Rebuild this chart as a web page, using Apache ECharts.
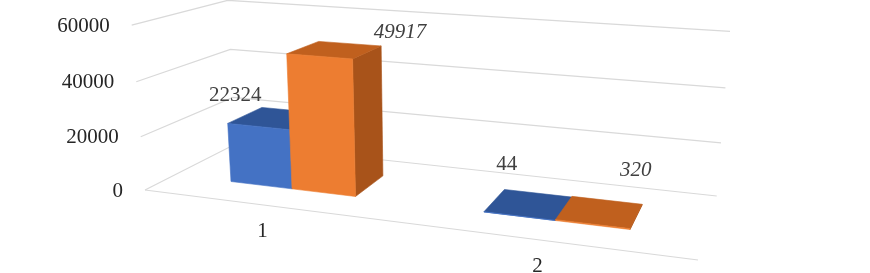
<!DOCTYPE html>
<html>
<head>
<meta charset="utf-8">
<script src="https://cdn.jsdelivr.net/npm/echarts@6/dist/echarts.min.js"></script>
<style>
  html, body { margin: 0; padding: 0; background: #ffffff; }
  #chart { width: 870px; height: 273px; }
</style>
</head>
<body>
<div id="chart"></div>
<script>
// ---------------- data ----------------
const categories = ['1', '2'];
const seriesA = [22324, 44];      // blue
const seriesB = [49917, 320];     // orange
const yTicks = [0, 20000, 40000, 60000];
const yTickLabels = ['0', '20000', '40000', '60000'];
const yMax = 60000;

// ---------------- layout / style ----------------
// perspective camera: maps unit box (X across, Y up, Z depth) to the screen
const cam = {
  ax: 444.73, az: 127.06, ay: -19.15, x0: 145,
  bx: 29.67, bz: -23.65, by: -166, y0: 190,
  gx: -0.15512, gz: 0.15524, gy: -0.04446
};
function proj(X, Y, Z) {
  const d = 1 + cam.gx * X + cam.gz * Z + cam.gy * Y;
  return [(cam.ax * X + cam.az * Z + cam.ay * Y + cam.x0) / d,
          (cam.bx * X + cam.bz * Z + cam.by * Y + cam.y0) / d];
}
const barWidthRatio = 0.256;   // each bar as fraction of category band
const depthFront = 0.3, depthBack = 0.7;
const gridColor = '#D9D9D9';
const fontFamily = "'Liberation Serif', 'Times New Roman', serif";
const fontSize = 21;
const seriesStyles = [
  { name: 'A', front: '#4472C4', top: '#2F5597', side: '#2B4C88', italic: false,
    labelOffsets: [[-40, -23], [-22, -40]] },
  { name: 'B', front: '#ED7D31', top: '#C0601E', side: '#A8531A', italic: true,
    labelOffsets: [[65, -17], [36, -41]] }
];
const allSeries = [seriesA, seriesB];

function norm(params, api, ci, v) {
  const cs = params.coordSys;
  const p = api.coord([ci, v]);
  return { X: (p[0] - cs.x) / cs.width, Y: (cs.y + cs.height - p[1]) / cs.height,
           band: api.size([1, 0])[0] / cs.width };
}

function poly(pts, color) {
  return { type: 'polygon', shape: { points: pts },
           style: { fill: color, stroke: color, lineWidth: 0.6 } };
}

function makeBarRender(sIdx) {
  const st = seriesStyles[sIdx];
  const nS = allSeries.length;
  return function (params, api) {
    const ci = api.value(0), v = api.value(1);
    const n = norm(params, api, ci, v);
    const w = n.band * barWidthRatio;
    const X0 = n.X + (sIdx - nS / 2) * w, X1 = X0 + w;
    const T = n.Y;
    const zf = depthFront, zb = depthBack;
    const side = poly([proj(X1, 0, zf), proj(X1, 0, zb), proj(X1, T, zb), proj(X1, T, zf)], st.side);
    const top = poly([proj(X0, T, zf), proj(X1, T, zf), proj(X1, T, zb), proj(X0, T, zb)], st.top);
    const front = poly([proj(X0, 0, zf), proj(X1, 0, zf), proj(X1, T, zf), proj(X0, T, zf)], st.front);
    const anchor = proj((X0 + X1) / 2, T, (zf + zb) / 2);
    const off = st.labelOffsets[params.dataIndex];
    const label = {
      type: 'text', z2: 10,
      style: {
        text: String(v), x: anchor[0] + off[0], y: anchor[1] + off[1],
        align: 'center', verticalAlign: 'middle',
        font: (st.italic ? 'italic ' : '') + fontSize + 'px ' + fontFamily,
        fill: '#404040'
      }
    };
    return { type: 'group', children: [side, top, front, label] };
  };
}

function gridRender(params, api) {
  const t = api.value(1);
  const n = norm(params, api, 0, t);
  const Y = n.Y;
  const children = [
    { type: 'polyline', shape: { points: [proj(0, Y, 0), proj(0, Y, 1), proj(1, Y, 1)] },
      style: { stroke: gridColor, lineWidth: 1.2, fill: null } }
  ];
  if (t === 0) {
    children.push({ type: 'line',
      shape: { x1: proj(0, 0, 0)[0], y1: proj(0, 0, 0)[1], x2: proj(1, 0, 0)[0], y2: proj(1, 0, 0)[1] },
      style: { stroke: gridColor, lineWidth: 1.2 } });
  }
  const lp = proj(0, Y, 0);
  children.push({ type: 'text',
    style: { text: yTickLabels[params.dataIndex], x: lp[0] - 22, y: lp[1] + 1,
             align: 'right', verticalAlign: 'middle',
             font: fontSize + 'px ' + fontFamily, fill: '#262626' } });
  return { type: 'group', children: children };
}

function catRender(params, api) {
  const ci = api.value(0);
  const n = norm(params, api, ci, 0);
  const p = proj(n.X, 0, 0);
  return { type: 'text',
    style: { text: categories[params.dataIndex], x: p[0] - 4, y: p[1] + 26,
             align: 'center', verticalAlign: 'middle',
             font: fontSize + 'px ' + fontFamily, fill: '#262626' } };
}

const chart = echarts.init(document.getElementById('chart'), null, { renderer: 'canvas' });
chart.setOption({
  animation: false,
  backgroundColor: '#ffffff',
  grid: { left: 0, right: 0, top: 0, bottom: 0 },
  xAxis: { type: 'category', data: categories, show: false, boundaryGap: true },
  yAxis: { type: 'value', min: 0, max: yMax, interval: 20000, show: false },
  series: [
    { type: 'custom', name: 'grid', clip: false, renderItem: gridRender,
      data: yTicks.map(t => [0, t]), encode: { x: 0, y: 1 }, silent: true },
    { type: 'custom', name: 'cats', clip: false, renderItem: catRender,
      data: categories.map((c, i) => [i, 0]), encode: { x: 0, y: 1 }, silent: true },
    { type: 'custom', name: seriesStyles[0].name, clip: false, renderItem: makeBarRender(0),
      data: seriesA.map((v, i) => [i, v]), encode: { x: 0, y: 1 } },
    { type: 'custom', name: seriesStyles[1].name, clip: false, renderItem: makeBarRender(1),
      data: seriesB.map((v, i) => [i, v]), encode: { x: 0, y: 1 } }
  ]
});
</script>
</body>
</html>
